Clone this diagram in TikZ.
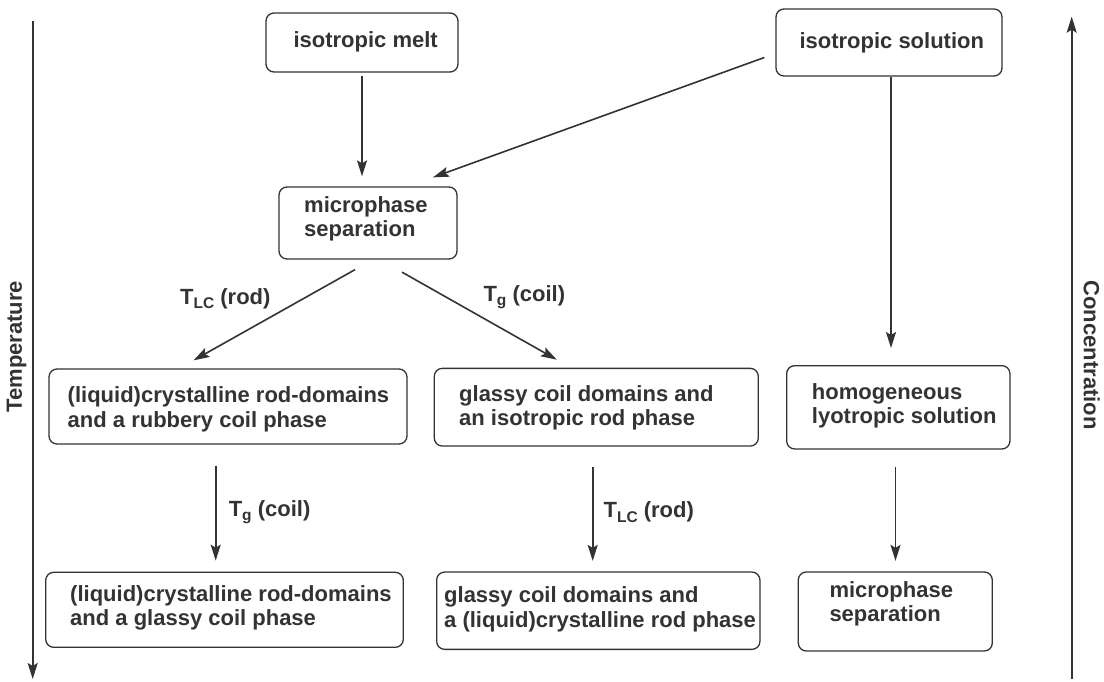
\documentclass[tikz,border=0pt]{standalone}
\usepackage{fontspec}
\setmainfont{Liberation Sans}
\usetikzlibrary{arrows.meta,calc}
\definecolor{ink}{HTML}{333333}
\newcommand{\sub}[1]{\raisebox{-4.5pt}{\fontsize{15.5}{15.5}\selectfont #1}}
\begin{document}
\begin{tikzpicture}[x=1pt,y=-1pt,
  box/.style={draw=ink, line width=1.3pt, rounded corners=8pt, inner sep=0pt},
  txt/.style={font=\fontsize{22}{24.5}\selectfont\bfseries, text=ink, inner sep=0pt, anchor=base west, align=left},
  arr/.style={draw=ink, line width=1.6pt, -{Stealth[length=16pt,width=10pt,inset=3pt]}},
  axis/.style={draw=ink, line width=1.7pt, -{Stealth[length=16pt,width=10pt,inset=3pt]}},
  lbl/.style={font=\fontsize{22}{24}\selectfont\bfseries, text=ink, inner sep=0pt, anchor=base west},
  axlbl/.style={font=\fontsize{22}{24}\selectfont\bfseries, text=ink, inner sep=0pt}]
\useasboundingbox (0,0) rectangle (1104,681);

% boxes
\node[box, minimum width=192pt, minimum height=59pt] (melt) at (362,42.5) {};
\node[box, minimum width=226pt, minimum height=67pt] (sol) at (889,42.5) {};
\node[box, minimum width=178pt, minimum height=72pt] (micro) at (368,223) {};
\node[box, minimum width=358pt, minimum height=75pt] (liqr) at (228,406.5) {};
\node[box, minimum width=324pt, minimum height=77.7pt] (glr) at (596.3,407.2) {};
\node[box, minimum width=223.3pt, minimum height=83.3pt] (homo) at (898.3,407.3) {};
\node[box, minimum width=357.6pt, minimum height=75pt] (liqg) at (224.5,609.8) {};
\node[box, minimum width=323.3pt, minimum height=77.3pt] (glg) at (598.3,610.7) {};
\node[box, minimum width=194pt, minimum height=79pt] (micro2) at (895.3,611.5) {};

% texts (anchor = baseline of the last line)
\node[txt] (tmelt) at (293.3,47) {isotropic melt};
\node[txt] (tsol) at (799.3,48) {isotropic solution};
\node[txt] (tmicro) at (304,236.5) {microphase\\separation};
\node[txt] (tliqr) at (67.5,427.2) {(liquid)crystalline rod-domains\\and a rubbery coil phase};
\node[txt] (tglr) at (459,425.5) {glassy coil domains and\\an isotropic rod phase};
\node[txt] (thomo) at (811.7,423.5) {homogeneous\\lyotropic solution};
\node[txt] (tliqg) at (70,625.5) {(liquid)crystalline rod-domains\\and a glassy coil phase};
\node[txt] (tglg) at (444,627) {glassy coil domains and\\a (liquid)crystalline rod phase};
\node[txt] (tmicro2) at (829.3,621.5) {microphase\\separation};

% connectors
\draw[arr] ($(melt.south)+(0,3)$) -- ($(melt.south |- micro.north)+(0,-10)$);
\draw[arr] ($(sol.west)+(-11,15)$) -- ($(micro.north)+(65,-9)$);
\draw[arr] ($(micro.south)+(-13,10)$) -- ($(liqr.north)+(-34.5,-8)$);
\draw[arr] ($(micro.south)+(34,12.5)$) -- ($(glr.north)+(-39.5,-8)$);
\draw[arr] ($(sol.south)+(2,0.5)$) -- ($(sol.south |- homo.north)+(2,-17)$);
\draw[arr] ($(liqr.south)+(-12.3,21)$) -- ($(liqr.south |- liqg.north)+(-12.3,-11)$);
\draw[arr] ($(glr.south)+(-3.6,20.5)$) -- ($(glr.south |- glg.north)+(-3.6,-10.5)$);
\draw[arr] ($(homo.south)+(-2.8,17.5)$) -- ($(homo.south |- micro2.north)+(-2.8,-10.5)$);

% transition labels
\node[lbl] (l1) at (180,304) {T\sub{LC} (rod)};
\node[lbl] (l2) at (483.3,301) {T\sub{g} (coil)};
\node[lbl] (l3) at (228.6,516) {T\sub{g} (coil)};
\node[lbl] (l4) at (603.4,517.5) {T\sub{LC} (rod)};

% axes
\coordinate (tTop) at (32.7,21);
\coordinate (tBot) at (32.7,679);
\coordinate (cBot) at (1071.7,679.3);
\coordinate (cTop) at (1071.7,16.7);
\draw[axis] (tTop) -- (tBot);
\draw[axis] (cBot) -- (cTop);
\node[axlbl, rotate=90] (ltemp) at (16.7,346.7) {Temperature};
\node[axlbl, rotate=-90] (lconc) at (1091.7,355) {Concentration};
\end{tikzpicture}
\end{document}
